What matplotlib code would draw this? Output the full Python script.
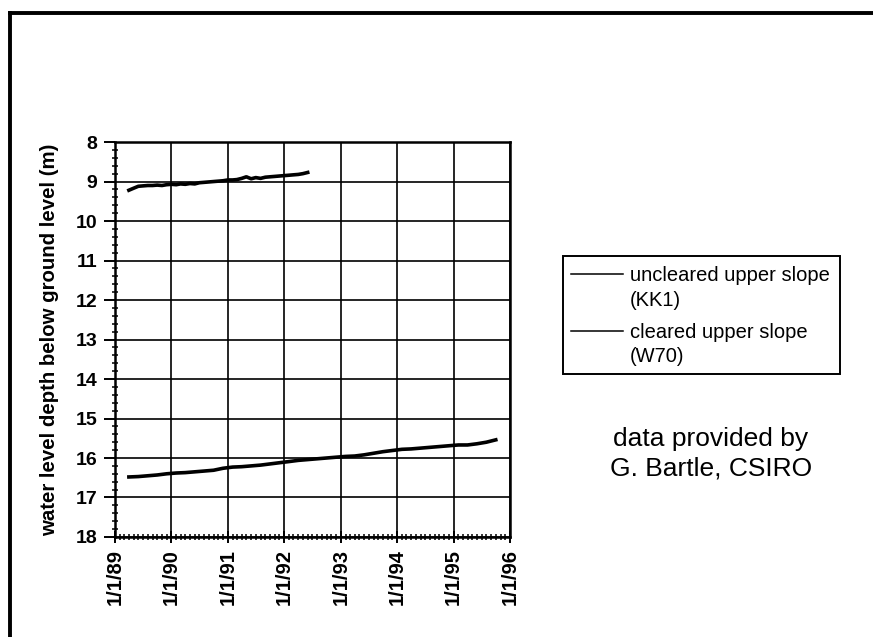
import numpy as np
import pandas as pd
import matplotlib.pyplot as plt
import matplotlib.dates as mdates
from matplotlib.lines import Line2D
from matplotlib.patches import Rectangle

plt.rcParams['font.family'] = ['Liberation Sans', 'DejaVu Sans']

# =============================================================================
# cleared upper slope (W70), monthly, Apr 1989 - Jun 1992
w70_start = "1989-04-01"
w70_depth = [9.22, 9.17, 9.12, 9.11, 9.10, 9.10, 9.09, 9.10, 9.08,
             9.07, 9.08, 9.06, 9.07, 9.05, 9.06, 9.03, 9.02, 9.01, 9.00, 8.99, 8.98,
             8.96, 8.96, 8.95, 8.92, 8.88, 8.93, 8.90, 8.92, 8.89, 8.88, 8.87, 8.86,
             8.85, 8.84, 8.83, 8.82, 8.80, 8.77]

# uncleared upper slope (KK1), every two months, Apr 1989 - Oct 1995
kk1_start = "1989-04-01"
kk1_depth = [16.48, 16.47, 16.45, 16.43, 16.40,
             16.38, 16.37, 16.35, 16.33, 16.31, 16.26,
             16.23, 16.22, 16.20, 16.18, 16.15, 16.12,
             16.09, 16.06, 16.04, 16.02, 16.00, 15.98,
             15.96, 15.95, 15.92, 15.88, 15.84, 15.81,
             15.78, 15.77, 15.75, 15.73, 15.71, 15.69,
             15.67, 15.67, 15.64, 15.60, 15.54]

year_ticks = ["1989", "1990", "1991", "1992", "1993", "1994", "1995", "1996"]
year_labels = ["1/1/89", "1/1/90", "1/1/91", "1/1/92", "1/1/93", "1/1/94", "1/1/95", "1/1/96"]
depth_ticks = list(range(8, 19))

legend_labels = ["uncleared upper slope\n(KK1)", "cleared upper slope\n(W70)"]
credit = "data provided by\nG. Bartle, CSIRO"

W, H = 873, 637


def px(x, y):
  # pixel position (from top-left) -> figure fraction
  return x / W, 1 - y / H


def draw_legend(fig):
  x0, y0 = px(563, 374)
  x1, y1 = px(840, 256)
  fig.add_artist(Rectangle((x0, y0), x1 - x0, y1 - y0, transform=fig.transFigure,
                           fill=False, edgecolor="black", lw=1.4))
  for i, label in enumerate(legend_labels):
    top = 274 + i * 57
    fig.add_artist(Line2D([571 / W, 623 / W], [1 - top / H] * 2, color="black", lw=1.1,
                          transform=fig.transFigure))
    for j, line in enumerate(label.split("\n")):
      fig.text(630 / W, 1 - (top + 1 + j * 25) / H, line, ha="left", va="center",
               fontsize=14.5)


def main():
  w70_dates = pd.date_range(w70_start, periods=len(w70_depth), freq="MS")
  kk1_dates = pd.date_range(kk1_start, periods=len(kk1_depth), freq="2MS")

  fig = plt.figure(figsize=(W / 100, H / 100), dpi=100)
  ax = fig.add_axes([0.1317, 0.157, 0.4525, 0.620])

  ax.plot(w70_dates, w70_depth, color="black", lw=2.6)
  ax.plot(kk1_dates, kk1_depth, color="black", lw=2.6)

  ax.set_ylim(18, 8)
  ax.set_yticks(depth_ticks)
  ax.set_yticklabels([str(v) for v in depth_ticks], fontweight="bold", fontsize=14)
  ax.yaxis.set_minor_locator(plt.MultipleLocator(0.2))

  xt = pd.to_datetime([y + "-01-01" for y in year_ticks])
  ax.set_xlim(xt[0], xt[-1])
  ax.set_xticks(xt)
  ax.set_xticklabels(year_labels, rotation=90, fontweight="bold", fontsize=14.5)
  ax.xaxis.set_minor_locator(mdates.MonthLocator())

  ax.tick_params(axis="y", which="major", direction="out", length=8, width=1.4, pad=4.5)
  ax.tick_params(axis="x", which="major", direction="inout", length=8, width=1.4, pad=5)
  ax.tick_params(which="minor", direction="inout", length=5, width=1.1)
  ax.grid(True, which="major", color="black", lw=1.2)
  for s in ax.spines.values():
    s.set_linewidth(1.8)

  ax.set_ylabel("water level depth below ground level (m)", fontweight="bold",
                fontsize=14.7)
  ax.yaxis.set_label_coords(-0.142, 0.5)

  draw_legend(fig)

  fig.text(711 / W, 1 - 454 / H, credit, ha="center", va="center",
           fontsize=19, linespacing=1.3)

  # scanned page border (top and left)
  fig.add_artist(Line2D([10 / W, 10 / W], [0, 1 - 13 / H], color="black", lw=2.8,
                        transform=fig.transFigure))
  fig.add_artist(Line2D([10 / W, 1], [1 - 13 / H, 1 - 13 / H], color="black", lw=2.8,
                        transform=fig.transFigure))

  fig.savefig("out.png", dpi=100)


if __name__ == "__main__":
  main()
